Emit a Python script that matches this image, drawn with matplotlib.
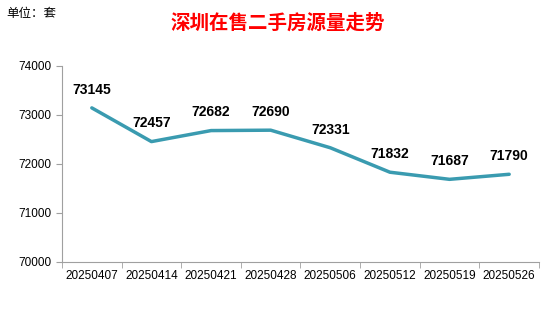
import matplotlib
matplotlib.use("Agg")
import matplotlib.pyplot as plt
import numpy as np

plt.rcParams['font.family'] = ['Noto Sans CJK SC', 'DejaVu Sans']

dates = ['20250407', '20250414', '20250421', '20250428',
         '20250506', '20250512', '20250519', '20250526']
listings = [73145, 72457, 72682, 72690, 72331, 71832, 71687, 71790]

fig = plt.figure(figsize=(5.56, 3.11), dpi=100)
ax = fig.add_axes([0.1115, 0.1576, 0.8579, 0.6302])

x = np.arange(len(dates))
ax.plot(x, listings, color='#3a9bb0', linewidth=2.5, solid_capstyle='round')
for xi, v in zip(x, listings):
    ax.annotate(str(v), (xi, v), xytext=(0, 8), textcoords='offset points',
                ha='center', va='bottom', fontsize=10, fontweight='bold',
                family=['Liberation Sans', 'DejaVu Sans'])

ax.set_xlim(-0.5, len(dates) - 0.5)
ax.set_ylim(70000, 74000)
ax.set_yticks([70000, 71000, 72000, 73000, 74000])
ax.set_xticks(x)
ax.set_xticklabels(dates)
ax.set_xticks(np.arange(-0.5, len(dates)), minor=True)
ax.tick_params(axis='x', which='major', length=0, labelsize=8.5, pad=6)
ax.tick_params(axis='x', which='minor', length=4, color='#a0a0a0')
ax.tick_params(axis='y', length=4, color='#a0a0a0', labelsize=8.5)
for lbl in ax.get_xticklabels() + ax.get_yticklabels():
    lbl.set_family(['Liberation Sans', 'DejaVu Sans'])

for s in ['top', 'right']:
    ax.spines[s].set_visible(False)
for s in ['left', 'bottom']:
    ax.spines[s].set_color('#a0a0a0')

fig.text(0.012, 0.955, '单位：套', fontsize=9, ha='left', va='center')
fig.text(0.5, 0.925, '深圳在售二手房源量走势', fontsize=14, fontweight='bold',
         color='#ff0000', ha='center', va='center')

fig.savefig('out.png', dpi=100)
